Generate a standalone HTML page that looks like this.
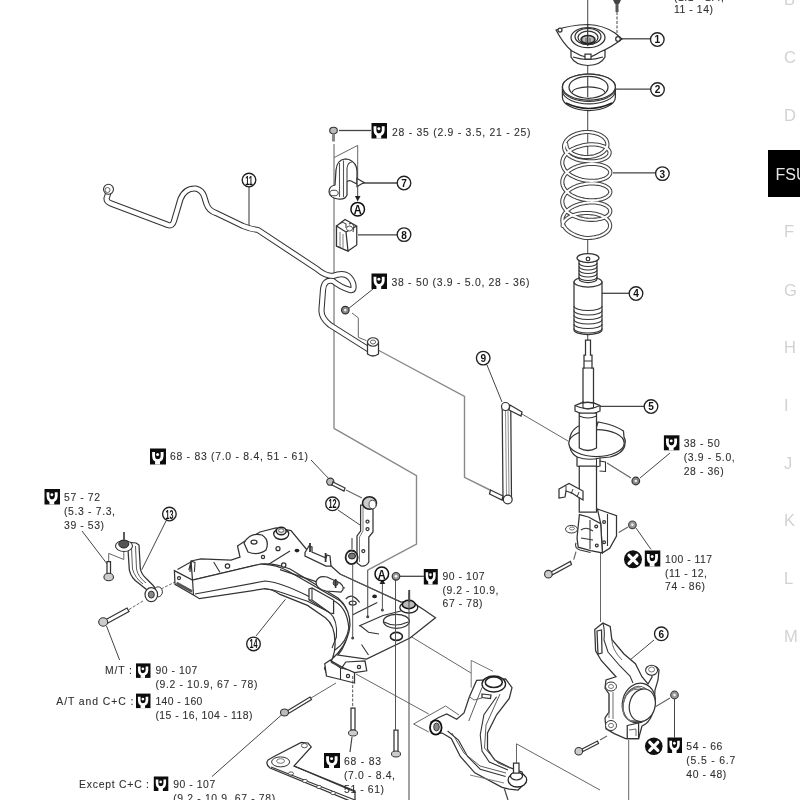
<!DOCTYPE html>
<html><head><meta charset="utf-8"><style>
html,body{margin:0;padding:0;background:#fff;width:800px;height:800px;overflow:hidden}
svg{display:block;filter:blur(0.35px)}
.t{font-family:"Liberation Sans",sans-serif;font-size:10.4px;fill:#303030;stroke:#303030;stroke-width:0.1px}
.co{font-family:"Liberation Sans",sans-serif;font-weight:bold;fill:#111}
.mg{font-family:"Liberation Sans",sans-serif;font-size:16.5px;fill:#d2d2d2}
</style></head><body>
<svg width="800" height="800" viewBox="0 0 800 800">
<text x="784" y="5.3" class="mg">B</text>
<text x="784" y="63.2" class="mg">C</text>
<text x="784" y="121" class="mg">D</text>
<text x="784" y="237.4" class="mg">F</text>
<text x="784" y="295.5" class="mg">G</text>
<text x="784" y="353" class="mg">H</text>
<text x="784" y="411" class="mg">I</text>
<text x="784" y="468.5" class="mg">J</text>
<text x="784" y="526.3" class="mg">K</text>
<text x="784" y="584" class="mg">L</text>
<text x="784" y="642" class="mg">M</text>
<rect x="768" y="150" width="40" height="47" fill="#000"/>
<text x="775.5" y="179.5" font-size="16" fill="#e6e6e6" font-family="Liberation Sans">FSU</text>
<line x1="621" y1="38.8" x2="650.5" y2="38.8" stroke="#444" stroke-width="1.3"/>
<line x1="614" y1="89.2" x2="650.8" y2="89.2" stroke="#444" stroke-width="1.3"/>
<line x1="613" y1="172.8" x2="655.6" y2="172.8" stroke="#444" stroke-width="1.3"/>
<line x1="602" y1="293.3" x2="629.3" y2="293.3" stroke="#444" stroke-width="1.3"/>
<line x1="600" y1="406.3" x2="644.3" y2="406.3" stroke="#444" stroke-width="1.3"/>
<line x1="339" y1="130.5" x2="371" y2="130.5" stroke="#444" stroke-width="1.3"/>
<line x1="360" y1="183" x2="397.3" y2="183" stroke="#444" stroke-width="1.3"/>
<line x1="358" y1="234.8" x2="397.3" y2="234.8" stroke="#444" stroke-width="1.3"/>
<line x1="249" y1="186.6" x2="249" y2="226" stroke="#444" stroke-width="1.1"/>
<line x1="373" y1="289" x2="348" y2="309" stroke="#444" stroke-width="1.0"/>
<line x1="311" y1="460" x2="330" y2="480" stroke="#444" stroke-width="1.0"/>
<line x1="338" y1="510" x2="360" y2="525" stroke="#444" stroke-width="1.0"/>
<line x1="400" y1="576.3" x2="423.8" y2="576.3" stroke="#444" stroke-width="1.3"/>
<line x1="670" y1="453" x2="640" y2="478" stroke="#444" stroke-width="1.0"/>
<line x1="651" y1="549.4" x2="636" y2="528" stroke="#444" stroke-width="1.0"/>
<line x1="654" y1="640" x2="630" y2="660" stroke="#444" stroke-width="1.0"/>
<line x1="674.5" y1="699" x2="674.5" y2="737.5" stroke="#444" stroke-width="1.0"/>
<line x1="166" y1="521" x2="141.7" y2="569.8" stroke="#444" stroke-width="1.0"/>
<polyline points="108.7,561 108.7,553.4 123.8,559.5 123.8,552" fill="none" stroke="#666" stroke-width="1.0"/>
<line x1="129" y1="609.5" x2="143" y2="601" stroke="#666" stroke-width="1.0" stroke-dasharray="3,1.5"/>
<line x1="161" y1="589" x2="175" y2="582" stroke="#666" stroke-width="1.0" stroke-dasharray="3,1.5"/>
<line x1="82" y1="531" x2="107.4" y2="564.3" stroke="#444" stroke-width="1.0"/>
<line x1="119.6" y1="660" x2="106.5" y2="626" stroke="#444" stroke-width="1.0"/>
<line x1="212" y1="776.5" x2="282" y2="714.5" stroke="#444" stroke-width="1.0"/>
<line x1="311" y1="698" x2="336" y2="683" stroke="#666" stroke-width="1.0"/>
<line x1="256" y1="636" x2="285.4" y2="599.3" stroke="#444" stroke-width="1.0"/>
<polyline points="334,144 334,428.4" fill="none" stroke="#999" stroke-width="1.6"/>
<polyline points="334,428.4 416.5,475.6 416.5,544 367.7,570.2" fill="none" stroke="#888" stroke-width="1.4"/>
<polyline points="378,350 464.5,396.4 464.5,477.4 490,490" fill="none" stroke="#888" stroke-width="1.4"/>
<polyline points="334,157.6 357.7,145.4 357.7,184.7" fill="none" stroke="#666" stroke-width="1.0"/>
<polyline points="352,313 358.3,317.8 358.3,337.3 366.4,340.6" fill="none" stroke="#666" stroke-width="1.0"/>
<line x1="357.7" y1="186" x2="357.7" y2="197" stroke="#444" stroke-width="1.0"/>
<path d="M354.9,196 L360.5,196 L357.7,201.5 Z" fill="#222"/>
<polyline points="522,414 568,441" fill="none" stroke="#666" stroke-width="1.0"/>
<line x1="487" y1="365" x2="502" y2="402" stroke="#444" stroke-width="1.0"/>
<polyline points="617,12 617,37" fill="none" stroke="#555" stroke-width="1.1" stroke-dasharray="3,1.5"/>
<line x1="587.7" y1="0" x2="587.7" y2="160" stroke="#555" stroke-width="1.1"/>
<line x1="587.7" y1="236" x2="587.7" y2="340" stroke="#555" stroke-width="1.1"/>
<line x1="600.5" y1="553" x2="600.5" y2="622" stroke="#666" stroke-width="1.0"/>
<line x1="628.7" y1="740" x2="628.7" y2="800" stroke="#666" stroke-width="1.0"/>
<polyline points="410,636 471.2,673.1" fill="none" stroke="#666" stroke-width="1.0"/>
<polyline points="471.2,687.6 471.2,660.4 493,671.3" fill="none" stroke="#777" stroke-width="1.0"/>
<polyline points="459,715 445.6,706 413.6,724 428.75,732" fill="none" stroke="#666" stroke-width="1.0"/>
<polyline points="516.5,763 516.5,743.8 600,790" fill="none" stroke="#666" stroke-width="1.0"/>
<line x1="356" y1="674" x2="428.75" y2="714" stroke="#666" stroke-width="1.0"/>
<path d="M108,194 L106.5,198.5 Q106.5,202 111,203.5 L168,225 Q172.5,226.5 174,221 L180.5,199 Q185,188 195.5,188.5 Q202,190 204,196 L206.5,204 Q209,211 216,213 L243,226 Q250,229 258,230 L317,269 Q325,276 333,276 Q348,270 353,283 Q355,291 350,290 Q340,287 333,281 Q324,279 323,290 L321.5,310 Q321,318 330,325 L368,349" fill="none" stroke="#333" stroke-width="6.2" stroke-linejoin="round" stroke-linecap="round"/><path d="M108,194 L106.5,198.5 Q106.5,202 111,203.5 L168,225 Q172.5,226.5 174,221 L180.5,199 Q185,188 195.5,188.5 Q202,190 204,196 L206.5,204 Q209,211 216,213 L243,226 Q250,229 258,230 L317,269 Q325,276 333,276 Q348,270 353,283 Q355,291 350,290 Q340,287 333,281 Q324,279 323,290 L321.5,310 Q321,318 330,325 L368,349" fill="none" stroke="#fff" stroke-width="4.1" stroke-linejoin="round" stroke-linecap="round"/>
<circle cx="108.5" cy="189.3" r="5" fill="#fff" stroke="#333" stroke-width="1.1"/>
<circle cx="107.5" cy="190" r="2.5" fill="#fff" stroke="#555" stroke-width="0.9"/>
<circle cx="345.3" cy="310.1" r="3.8" fill="#888" stroke="#333" stroke-width="1.2"/><circle cx="345.3" cy="310.1" r="1.3" fill="#eee"/>
<path d="M367.5,342 L367.5,354 Q373,358 378.5,354 L378.5,342 Z" fill="#fff" stroke="#333" stroke-width="1.25" />
<ellipse cx="373" cy="342" rx="5.5" ry="4.2" fill="#fff" stroke="#333" stroke-width="1.1"/>
<ellipse cx="373" cy="342" rx="2.6" ry="2" fill="#fff" stroke="#555" stroke-width="0.9"/>
<ellipse cx="333.5" cy="130.5" rx="3.8" ry="3.2" fill="#bbb" stroke="#333" stroke-width="1.1"/>
<rect x="332" y="133.5" width="3" height="8" fill="#888"/>
<path d="M571,50 L571,57 Q575,65 588,65.5 Q601,65 605,57 L605,50 Z" fill="#fff" stroke="#333" stroke-width="1.25" />
<path d="M573,57 Q588,62 603,57" fill="none" stroke="#333" stroke-width="1.20"/>
<path d="M556,30 Q570,25 588,24.5 Q603,25 615,33 L622,39 Q612,47 600,52 Q592,57 588,57.5 Q580,56 572,51 Q564,45 556,30 Z" fill="#fff" stroke="#333" stroke-width="1.25" />
<ellipse cx="588" cy="37.6" rx="17" ry="10" fill="#fff" stroke="#333" stroke-width="1.25" />
<ellipse cx="588" cy="36.5" rx="13" ry="8.2" fill="#fff" stroke="#333" stroke-width="1.25" />
<ellipse cx="588" cy="37.6" rx="10" ry="6.5" fill="#fff" stroke="#333" stroke-width="1.25" />
<ellipse cx="588" cy="39.4" rx="7" ry="4" fill="#bbb" stroke="#222" stroke-width="1.5"/>
<path d="M582,38 L582,42 M586,38 L586,43 M590,38 L590,43 M594,38 L594,42" fill="none" stroke="#444" stroke-width="0.84"/>
<path d="M587.7,24 L587.7,46" fill="none" stroke="#333" stroke-width="1.20"/>
<circle cx="560" cy="30" r="2" fill="#fff" stroke="#333" stroke-width="1.25"/>
<circle cx="618" cy="39" r="2.3" fill="#fff" stroke="#333" stroke-width="1.25"/>
<path d="M585,54 L591,54 L591,59 L585,59 Z" fill="#fff" stroke="#333" stroke-width="1.25" />
<path d="M613,0 L621,0 L619,4 L615,4 Z" fill="#444"/><rect x="615.5" y="4" width="3" height="8" fill="#555"/>
<path d="M562.4,87 L562.4,97 A26.5,13.5 0 0 0 615.4,97 L615.4,87 A26.5,13 0 0 0 562.4,87 Z" fill="#fff" stroke="#333" stroke-width="1.25" />
<ellipse cx="588.9" cy="87" rx="26.5" ry="13" fill="#fff" stroke="#333" stroke-width="1.25" />
<ellipse cx="588.5" cy="87.3" rx="19.5" ry="11" fill="#fff" stroke="#333" stroke-width="1.25" />
<path d="M572.3,92.5 A16.2,5.6 0 0 1 604.7,92.5" fill="none" stroke="#333" stroke-width="1.20"/>
<path d="M562.6,89.5 A26.4,13 0 0 0 615.2,89.5" fill="none" stroke="#333" stroke-width="1.08"/>
<path d="M562.6,92 A26.4,13 0 0 0 615.2,92" fill="none" stroke="#333" stroke-width="1.08"/>
<path d="M566,103 Q589,114 612,103" fill="none" stroke="#222" stroke-width="1.56"/>
<path d="M587.7,76.5 L587.7,97" fill="none" stroke="#444" stroke-width="1.14"/>
<path d="M566.3,144.0 L566.3,145.0 L566.5,146.0 L566.7,146.9 L567.1,147.9 L567.6,148.8 L568.2,149.7 L568.9,150.5 L569.7,151.4 L570.5,152.2 L571.5,152.9 L572.6,153.6 L573.7,154.2 L575.0,154.8 L576.3,155.3 L577.6,155.8 L579.0,156.1 L580.5,156.5 L582.0,156.7 L583.5,156.9 L585.0,157.0 L586.6,157.0 L588.1,157.0 L589.7,156.9 L591.2,156.7 L592.7,156.5 L594.2,156.2 L595.6,155.8 L597.0,155.3 L598.3,154.8 L599.6,154.2 L600.7,153.6 L601.9,152.9 L602.9,152.2 L603.8,151.4 L604.6,150.6 L605.4,149.8 L606.0,148.9 L606.5,148.0 L606.9,147.0 L607.2,146.1 L607.4,145.1 L607.4,144.2 L607.3,143.2 L607.1,142.3 L606.8,141.3 L606.4,140.4 L605.9,139.5 L605.2,138.7 L604.4,137.8 L603.6,137.1 L602.6,136.3 L601.5,135.6 L600.4,135.0 L599.1,134.4 L597.8,133.8 L596.4,133.4 L595.0,133.0 L593.5,132.6 L591.9,132.4 L590.3,132.2 L588.7,132.0 L587.1,132.0 L585.5,132.0 L583.9,132.2 L582.2,132.4 L580.6,132.7 L579.0,133.1 L577.5,133.5 L576.0,134.0 L574.6,134.6 L573.2,135.2 L571.9,135.9 L570.7,136.6 L569.5,137.4 L568.5,138.3 L567.6,139.1 L566.7,140.1 L566.0,141.0 L565.4,142.0 L564.9,143.0 L564.5,144.1 L564.2,145.1 L564.1,146.1 L564.1,147.2 L564.2,148.2 L564.5,149.3 L564.8,150.3 L565.3,151.3 L565.9,152.3 L566.7,153.2 L567.5,154.2 L568.5,155.0 L569.5,155.9 L570.7,156.6 L571.9,157.4 L573.3,158.0 L574.7,158.6 L576.2,159.2 L577.7,159.7 L579.3,160.1 L580.9,160.4 L582.6,160.7 L584.3,160.9 L586.0,161.0 L587.7,161.2 L589.4,161.3 L591.1,161.4 L592.8,161.4 L594.5,161.3 L596.1,161.1 L597.6,160.9 L599.1,160.6 L600.5,160.3 L601.9,159.9 L603.1,159.4 L604.3,158.9 L605.3,158.4 L606.3,157.8 L607.1,157.2 L607.9,156.5 L608.5,155.8 L609.0,155.1 L609.3,154.4 L609.5,153.6 L609.6,152.9 L609.6,152.1 L609.4,151.4 L609.1,150.7 L608.7,149.9 L608.1,149.3 L607.4,148.6 L606.6,148.0 L605.7,147.4 L604.7,146.8 L603.5,146.3 L602.3,145.9 L600.9,145.5 L599.5,145.1 L598.0,144.8 L596.4,144.6 L594.8,144.5 L593.1,144.4 L591.3,144.4 L589.6,144.4 L587.8,144.6 L586.0,144.8 L584.2,145.1 L582.4,145.4 L580.6,145.9 L578.9,146.4 L577.2,146.9 L575.5,147.6 L574.0,148.3 L572.4,149.0 L571.0,149.9 L569.7,150.8 L568.4,151.7 L567.2,152.7 L566.2,153.7 L565.3,154.8 L564.5,155.9 L563.8,157.1 L563.2,158.2 L562.8,159.4 L562.5,160.6 L562.3,161.8 L562.3,163.0 L562.4,164.2 L562.7,165.4 L563.1,166.6 L563.6,167.8 L564.2,169.0 L565.0,170.1 L565.9,171.2 L566.9,172.2 L568.0,173.2 L569.2,174.2 L570.5,175.1 L572.0,175.9 L573.4,176.7 L575.0,177.4 L576.6,178.1 L578.3,178.7 L580.0,179.2 L581.8,179.7 L583.6,180.1 L585.4,180.4 L587.2,180.6 L589.0,180.8 L590.8,180.9 L592.6,180.9 L594.3,180.8 L596.0,180.7 L597.6,180.5 L599.2,180.2 L600.6,179.9 L602.1,179.5 L603.4,179.1 L604.6,178.6 L605.7,178.1 L606.7,177.5 L607.6,176.9 L608.4,176.2 L609.0,175.5 L609.5,174.8 L609.9,174.1 L610.2,173.4 L610.3,172.6 L610.3,171.9 L610.1,171.1 L609.8,170.4 L609.4,169.7 L608.8,169.0 L608.1,168.3 L607.3,167.7 L606.4,167.1 L605.4,166.5 L604.2,166.0 L602.9,165.5 L601.6,165.1 L600.2,164.7 L598.6,164.4 L597.1,164.2 L595.4,164.0 L593.7,163.9 L592.0,163.9 L590.2,163.9 L588.4,164.0 L586.6,164.2 L584.8,164.5 L583.0,164.8 L581.2,165.2 L579.5,165.7 L577.7,166.2 L576.1,166.9 L574.5,167.5 L572.9,168.3 L571.5,169.1 L570.1,170.0 L568.8,170.9 L567.6,171.9 L566.5,172.9 L565.6,173.9 L564.7,175.0 L564.0,176.2 L563.4,177.3 L562.9,178.5 L562.6,179.7 L562.4,180.9 L562.3,182.1 L562.4,183.3 L562.6,184.5 L562.9,185.7 L563.4,186.9 L564.0,188.1 L564.7,189.2 L565.6,190.3 L566.5,191.4 L567.6,192.4 L568.8,193.4 L570.1,194.3 L571.5,195.2 L572.9,196.0 L574.5,196.7 L576.1,197.4 L577.7,198.0 L579.5,198.6 L581.2,199.0 L583.0,199.4 L584.8,199.8 L586.6,200.0 L588.4,200.2 L590.2,200.3 L592.0,200.4 L593.7,200.3 L595.4,200.2 L597.1,200.1 L598.6,199.8 L600.2,199.5 L601.6,199.2 L602.9,198.7 L604.2,198.3 L605.4,197.8 L606.4,197.2 L607.3,196.6 L608.1,195.9 L608.8,195.3 L609.4,194.6 L609.8,193.8 L610.1,193.1 L610.3,192.4 L610.3,191.6 L610.2,190.9 L609.9,190.1 L609.5,189.4 L609.0,188.7 L608.4,188.0 L607.6,187.4 L606.7,186.8 L605.7,186.2 L604.6,185.6 L603.4,185.2 L602.1,184.7 L600.6,184.3 L599.2,184.0 L597.6,183.8 L596.0,183.6 L594.3,183.4 L592.6,183.4 L590.8,183.4 L589.0,183.5 L587.2,183.6 L585.4,183.9 L583.6,184.2 L581.8,184.6 L580.0,185.0 L578.3,185.5 L576.6,186.1 L575.0,186.8 L573.4,187.5 L572.0,188.3 L570.5,189.2 L569.2,190.1 L568.0,191.0 L566.9,192.0 L565.9,193.1 L565.0,194.2 L564.2,195.3 L563.6,196.4 L563.1,197.6 L562.7,198.8 L562.4,200.0 L562.3,201.2 L562.3,202.4 L562.5,203.6 L562.8,204.8 L563.2,206.0 L563.8,207.2 L564.5,208.3 L565.3,209.4 L566.2,210.5 L567.2,211.6 L568.4,212.5 L569.7,213.5 L571.0,214.4 L572.4,215.2 L574.0,216.0 L575.5,216.7 L577.2,217.3 L578.9,217.9 L580.6,218.4 L582.4,218.8 L584.2,219.2 L586.0,219.5 L587.8,219.7 L589.6,219.8 L591.4,219.8 L593.1,219.8 L594.9,219.7 L596.5,219.6 L598.1,219.3 L599.7,219.0 L601.1,218.7 L602.5,218.3 L603.8,217.8 L605.0,217.3 L606.1,216.7 L607.0,216.1 L607.9,215.5 L608.6,214.8 L609.2,214.1 L609.7,213.4 L610.0,212.6 L610.2,211.9 L610.3,211.1 L610.2,210.4 L610.0,209.6 L609.7,208.9 L609.2,208.2 L608.6,207.4 L607.9,206.8 L607.0,206.1 L606.1,205.5 L605.0,205.0 L603.8,204.4 L602.5,204.0 L601.1,203.6 L599.7,203.2 L598.1,202.9 L596.5,202.7 L594.9,202.5 L593.1,202.4 L591.4,202.4 L589.6,202.5 L587.8,202.6 L586.0,202.8 L584.2,203.1 L582.4,203.4 L580.6,203.8 L578.9,204.3 L577.2,204.9 L575.5,205.5 L574.0,206.2 L572.4,207.0 L571.0,207.8 L569.7,208.6 L568.4,209.6 L567.3,210.5 L566.2,211.6 L565.3,212.6 L564.5,213.7 L563.8,214.9 L563.2,216.0 L562.8,217.2 L562.5,218.4 L562.4,219.6 L562.4,220.8 L562.5,222.0 L562.7,223.2 L563.1,224.3 L563.6,225.5 L564.3,226.6 L565.0,227.8 L565.9,228.8 L566.9,229.9 L568.1,230.9 L569.3,231.8 L570.6,232.7 L572.0,233.5 L573.5,234.3 L575.0,235.0 L576.7,235.7 L578.3,236.3 L580.1,236.8 L581.8,237.2 L583.6,237.6 L585.4,237.9 L587.2,238.0 L589.0,238.0 L590.8,237.8 L592.5,237.6 L594.2,237.4 L595.9,237.0 L597.5,236.6 L599.1,236.2 L600.6,235.6 L602.0,235.0 L603.3,234.4 L604.5,233.7 L605.6,232.9 L606.6,232.2 L607.5,231.3 L608.2,230.5 L608.9,229.6 L609.4,228.7 L609.8,227.7 L610.0,226.8 L610.1,225.8 L610.1,224.9 L609.9,223.9 L609.6,223.0 L609.2,222.0 L608.7,221.1 L608.0,220.2 L607.2,219.4 L606.2,218.6 L605.2,217.8 L604.1,217.1 L602.8,216.4 L601.5,215.8 L600.0,215.2 L598.5,214.7 L597.0,214.2 L595.3,213.8 L593.6,213.5 L591.9,213.3 L590.2,213.1 L588.4,213.0 L586.6,213.0 L584.8,213.0 L583.0,213.1 L581.3,213.3 L579.5,213.5 L577.8,213.9 L576.2,214.2 L574.6,214.7 L573.1,215.2 L571.6,215.8 L570.3,216.4 L569.0,217.1 L567.8,217.8 L566.8,218.6 L565.8,219.5 L565.0,220.3 L564.3,221.2 L563.7,222.1 L563.2,223.1 L562.9,224.0 L562.7,225.0 L562.6,226.0" fill="none" stroke="#444" stroke-width="4.2" stroke-linejoin="round" stroke-linecap="round"/><path d="M566.3,144.0 L566.3,145.0 L566.5,146.0 L566.7,146.9 L567.1,147.9 L567.6,148.8 L568.2,149.7 L568.9,150.5 L569.7,151.4 L570.5,152.2 L571.5,152.9 L572.6,153.6 L573.7,154.2 L575.0,154.8 L576.3,155.3 L577.6,155.8 L579.0,156.1 L580.5,156.5 L582.0,156.7 L583.5,156.9 L585.0,157.0 L586.6,157.0 L588.1,157.0 L589.7,156.9 L591.2,156.7 L592.7,156.5 L594.2,156.2 L595.6,155.8 L597.0,155.3 L598.3,154.8 L599.6,154.2 L600.7,153.6 L601.9,152.9 L602.9,152.2 L603.8,151.4 L604.6,150.6 L605.4,149.8 L606.0,148.9 L606.5,148.0 L606.9,147.0 L607.2,146.1 L607.4,145.1 L607.4,144.2 L607.3,143.2 L607.1,142.3 L606.8,141.3 L606.4,140.4 L605.9,139.5 L605.2,138.7 L604.4,137.8 L603.6,137.1 L602.6,136.3 L601.5,135.6 L600.4,135.0 L599.1,134.4 L597.8,133.8 L596.4,133.4 L595.0,133.0 L593.5,132.6 L591.9,132.4 L590.3,132.2 L588.7,132.0 L587.1,132.0 L585.5,132.0 L583.9,132.2 L582.2,132.4 L580.6,132.7 L579.0,133.1 L577.5,133.5 L576.0,134.0 L574.6,134.6 L573.2,135.2 L571.9,135.9 L570.7,136.6 L569.5,137.4 L568.5,138.3 L567.6,139.1 L566.7,140.1 L566.0,141.0 L565.4,142.0 L564.9,143.0 L564.5,144.1 L564.2,145.1 L564.1,146.1 L564.1,147.2 L564.2,148.2 L564.5,149.3 L564.8,150.3 L565.3,151.3 L565.9,152.3 L566.7,153.2 L567.5,154.2 L568.5,155.0 L569.5,155.9 L570.7,156.6 L571.9,157.4 L573.3,158.0 L574.7,158.6 L576.2,159.2 L577.7,159.7 L579.3,160.1 L580.9,160.4 L582.6,160.7 L584.3,160.9 L586.0,161.0 L587.7,161.2 L589.4,161.3 L591.1,161.4 L592.8,161.4 L594.5,161.3 L596.1,161.1 L597.6,160.9 L599.1,160.6 L600.5,160.3 L601.9,159.9 L603.1,159.4 L604.3,158.9 L605.3,158.4 L606.3,157.8 L607.1,157.2 L607.9,156.5 L608.5,155.8 L609.0,155.1 L609.3,154.4 L609.5,153.6 L609.6,152.9 L609.6,152.1 L609.4,151.4 L609.1,150.7 L608.7,149.9 L608.1,149.3 L607.4,148.6 L606.6,148.0 L605.7,147.4 L604.7,146.8 L603.5,146.3 L602.3,145.9 L600.9,145.5 L599.5,145.1 L598.0,144.8 L596.4,144.6 L594.8,144.5 L593.1,144.4 L591.3,144.4 L589.6,144.4 L587.8,144.6 L586.0,144.8 L584.2,145.1 L582.4,145.4 L580.6,145.9 L578.9,146.4 L577.2,146.9 L575.5,147.6 L574.0,148.3 L572.4,149.0 L571.0,149.9 L569.7,150.8 L568.4,151.7 L567.2,152.7 L566.2,153.7 L565.3,154.8 L564.5,155.9 L563.8,157.1 L563.2,158.2 L562.8,159.4 L562.5,160.6 L562.3,161.8 L562.3,163.0 L562.4,164.2 L562.7,165.4 L563.1,166.6 L563.6,167.8 L564.2,169.0 L565.0,170.1 L565.9,171.2 L566.9,172.2 L568.0,173.2 L569.2,174.2 L570.5,175.1 L572.0,175.9 L573.4,176.7 L575.0,177.4 L576.6,178.1 L578.3,178.7 L580.0,179.2 L581.8,179.7 L583.6,180.1 L585.4,180.4 L587.2,180.6 L589.0,180.8 L590.8,180.9 L592.6,180.9 L594.3,180.8 L596.0,180.7 L597.6,180.5 L599.2,180.2 L600.6,179.9 L602.1,179.5 L603.4,179.1 L604.6,178.6 L605.7,178.1 L606.7,177.5 L607.6,176.9 L608.4,176.2 L609.0,175.5 L609.5,174.8 L609.9,174.1 L610.2,173.4 L610.3,172.6 L610.3,171.9 L610.1,171.1 L609.8,170.4 L609.4,169.7 L608.8,169.0 L608.1,168.3 L607.3,167.7 L606.4,167.1 L605.4,166.5 L604.2,166.0 L602.9,165.5 L601.6,165.1 L600.2,164.7 L598.6,164.4 L597.1,164.2 L595.4,164.0 L593.7,163.9 L592.0,163.9 L590.2,163.9 L588.4,164.0 L586.6,164.2 L584.8,164.5 L583.0,164.8 L581.2,165.2 L579.5,165.7 L577.7,166.2 L576.1,166.9 L574.5,167.5 L572.9,168.3 L571.5,169.1 L570.1,170.0 L568.8,170.9 L567.6,171.9 L566.5,172.9 L565.6,173.9 L564.7,175.0 L564.0,176.2 L563.4,177.3 L562.9,178.5 L562.6,179.7 L562.4,180.9 L562.3,182.1 L562.4,183.3 L562.6,184.5 L562.9,185.7 L563.4,186.9 L564.0,188.1 L564.7,189.2 L565.6,190.3 L566.5,191.4 L567.6,192.4 L568.8,193.4 L570.1,194.3 L571.5,195.2 L572.9,196.0 L574.5,196.7 L576.1,197.4 L577.7,198.0 L579.5,198.6 L581.2,199.0 L583.0,199.4 L584.8,199.8 L586.6,200.0 L588.4,200.2 L590.2,200.3 L592.0,200.4 L593.7,200.3 L595.4,200.2 L597.1,200.1 L598.6,199.8 L600.2,199.5 L601.6,199.2 L602.9,198.7 L604.2,198.3 L605.4,197.8 L606.4,197.2 L607.3,196.6 L608.1,195.9 L608.8,195.3 L609.4,194.6 L609.8,193.8 L610.1,193.1 L610.3,192.4 L610.3,191.6 L610.2,190.9 L609.9,190.1 L609.5,189.4 L609.0,188.7 L608.4,188.0 L607.6,187.4 L606.7,186.8 L605.7,186.2 L604.6,185.6 L603.4,185.2 L602.1,184.7 L600.6,184.3 L599.2,184.0 L597.6,183.8 L596.0,183.6 L594.3,183.4 L592.6,183.4 L590.8,183.4 L589.0,183.5 L587.2,183.6 L585.4,183.9 L583.6,184.2 L581.8,184.6 L580.0,185.0 L578.3,185.5 L576.6,186.1 L575.0,186.8 L573.4,187.5 L572.0,188.3 L570.5,189.2 L569.2,190.1 L568.0,191.0 L566.9,192.0 L565.9,193.1 L565.0,194.2 L564.2,195.3 L563.6,196.4 L563.1,197.6 L562.7,198.8 L562.4,200.0 L562.3,201.2 L562.3,202.4 L562.5,203.6 L562.8,204.8 L563.2,206.0 L563.8,207.2 L564.5,208.3 L565.3,209.4 L566.2,210.5 L567.2,211.6 L568.4,212.5 L569.7,213.5 L571.0,214.4 L572.4,215.2 L574.0,216.0 L575.5,216.7 L577.2,217.3 L578.9,217.9 L580.6,218.4 L582.4,218.8 L584.2,219.2 L586.0,219.5 L587.8,219.7 L589.6,219.8 L591.4,219.8 L593.1,219.8 L594.9,219.7 L596.5,219.6 L598.1,219.3 L599.7,219.0 L601.1,218.7 L602.5,218.3 L603.8,217.8 L605.0,217.3 L606.1,216.7 L607.0,216.1 L607.9,215.5 L608.6,214.8 L609.2,214.1 L609.7,213.4 L610.0,212.6 L610.2,211.9 L610.3,211.1 L610.2,210.4 L610.0,209.6 L609.7,208.9 L609.2,208.2 L608.6,207.4 L607.9,206.8 L607.0,206.1 L606.1,205.5 L605.0,205.0 L603.8,204.4 L602.5,204.0 L601.1,203.6 L599.7,203.2 L598.1,202.9 L596.5,202.7 L594.9,202.5 L593.1,202.4 L591.4,202.4 L589.6,202.5 L587.8,202.6 L586.0,202.8 L584.2,203.1 L582.4,203.4 L580.6,203.8 L578.9,204.3 L577.2,204.9 L575.5,205.5 L574.0,206.2 L572.4,207.0 L571.0,207.8 L569.7,208.6 L568.4,209.6 L567.3,210.5 L566.2,211.6 L565.3,212.6 L564.5,213.7 L563.8,214.9 L563.2,216.0 L562.8,217.2 L562.5,218.4 L562.4,219.6 L562.4,220.8 L562.5,222.0 L562.7,223.2 L563.1,224.3 L563.6,225.5 L564.3,226.6 L565.0,227.8 L565.9,228.8 L566.9,229.9 L568.1,230.9 L569.3,231.8 L570.6,232.7 L572.0,233.5 L573.5,234.3 L575.0,235.0 L576.7,235.7 L578.3,236.3 L580.1,236.8 L581.8,237.2 L583.6,237.6 L585.4,237.9 L587.2,238.0 L589.0,238.0 L590.8,237.8 L592.5,237.6 L594.2,237.4 L595.9,237.0 L597.5,236.6 L599.1,236.2 L600.6,235.6 L602.0,235.0 L603.3,234.4 L604.5,233.7 L605.6,232.9 L606.6,232.2 L607.5,231.3 L608.2,230.5 L608.9,229.6 L609.4,228.7 L609.8,227.7 L610.0,226.8 L610.1,225.8 L610.1,224.9 L609.9,223.9 L609.6,223.0 L609.2,222.0 L608.7,221.1 L608.0,220.2 L607.2,219.4 L606.2,218.6 L605.2,217.8 L604.1,217.1 L602.8,216.4 L601.5,215.8 L600.0,215.2 L598.5,214.7 L597.0,214.2 L595.3,213.8 L593.6,213.5 L591.9,213.3 L590.2,213.1 L588.4,213.0 L586.6,213.0 L584.8,213.0 L583.0,213.1 L581.3,213.3 L579.5,213.5 L577.8,213.9 L576.2,214.2 L574.6,214.7 L573.1,215.2 L571.6,215.8 L570.3,216.4 L569.0,217.1 L567.8,217.8 L566.8,218.6 L565.8,219.5 L565.0,220.3 L564.3,221.2 L563.7,222.1 L563.2,223.1 L562.9,224.0 L562.7,225.0 L562.6,226.0" fill="none" stroke="#fff" stroke-width="2.1" stroke-linejoin="round" stroke-linecap="round"/>
<path d="M574,282 L574,330 A14,4.5 0 0 0 602,330 L602,282 Z" fill="#fff" stroke="#333" stroke-width="1.25" />
<ellipse cx="588" cy="282" rx="14" ry="5" fill="#fff" stroke="#333" stroke-width="1.25" />
<path d="M574,306 A14,4.5 0 0 0 602,306" fill="none" stroke="#333" stroke-width="1.08"/>
<path d="M574,310.5 A14,4.5 0 0 0 602,310.5" fill="none" stroke="#333" stroke-width="1.08"/>
<path d="M574,315 A14,4.5 0 0 0 602,315" fill="none" stroke="#333" stroke-width="1.08"/>
<path d="M574,319.5 A14,4.5 0 0 0 602,319.5" fill="none" stroke="#333" stroke-width="1.08"/>
<path d="M574,324 A14,4.5 0 0 0 602,324" fill="none" stroke="#333" stroke-width="1.08"/>
<path d="M574,328.5 A14,4.5 0 0 0 602,328.5" fill="none" stroke="#333" stroke-width="1.08"/>
<path d="M579,258 L579,279 A9,3.5 0 0 0 597,279 L597,258 Z" fill="#fff" stroke="#333" stroke-width="1.25" />
<ellipse cx="588" cy="258" rx="11" ry="4.5" fill="#fff" stroke="#333" stroke-width="1.25" />
<circle cx="588" cy="259" r="1.8" fill="#fff" stroke="#333" stroke-width="1.25"/>
<path d="M579,263 A9,3.5 0 0 0 597,263" fill="none" stroke="#333" stroke-width="1.08"/>
<path d="M579,266.5 A9,3.5 0 0 0 597,266.5" fill="none" stroke="#333" stroke-width="1.08"/>
<path d="M579,270 A9,3.5 0 0 0 597,270" fill="none" stroke="#333" stroke-width="1.08"/>
<path d="M579,273.5 A9,3.5 0 0 0 597,273.5" fill="none" stroke="#333" stroke-width="1.08"/>
<path d="M579,277 A9,3.5 0 0 0 597,277" fill="none" stroke="#333" stroke-width="1.08"/>
<path d="M585.5,340 L585.5,355 L584,355 L584,368 L583,368 L583,405 L593.5,405 L593.5,368 L592,368 L592,355 L590.5,355 L590.5,340 Z" fill="#fff" stroke="#333" stroke-width="1.25" />
<path d="M584,368 L592,368 M584,361 L592,361" fill="none" stroke="#333" stroke-width="1.08"/>
<path d="M575,405.5 L575,411 Q587.5,418 600,411 L600,405.5 Q587.5,399 575,405.5 Z" fill="#fff" stroke="#333" stroke-width="1.25" />
<path d="M575,405.5 Q587.5,412 600,405.5" fill="none" stroke="#333" stroke-width="1.08"/>
<path d="M583,401 L583,408 Q588,410 593.5,408 L593.5,401" fill="none" stroke="#333" stroke-width="1.08"/>
<path d="M569.5,443 Q569,428 584,424 L585,431 Q588,430 596,429 L598,422 L603,423 Q614,425 623.5,431 L624,437 Q626,441 625,443 Q625,453 610,457 L600,458 L600,466 Q588,470 577,466 L577,457 Q569,452 569.5,443 Z" fill="#fff" stroke="#333" stroke-width="1.25" />
<ellipse cx="596.5" cy="443" rx="27.75" ry="13.5" fill="#fff" stroke="#333" stroke-width="1.25" fill="none"/>
<path d="M577,457 Q588,461 600,458" fill="none" stroke="#333" stroke-width="1.08"/>
<path d="M579.25,413 L579.25,448 Q588,453 596.5,448 L596.5,413 Z" fill="#fff" stroke="#333" stroke-width="1.25" />
<path d="M579.25,416 Q588,420 596.5,416" fill="none" stroke="#333" stroke-width="1.08"/>
<path d="M579.25,466 L579.25,512 L596.5,512 L596.5,466 Z" fill="#fff" stroke="#333" stroke-width="1.25" />
<path d="M596.5,458 L596.5,470 M599.5,461 L605.5,462 L605.5,471.5 L599.5,471" fill="none" stroke="#333" stroke-width="1.08"/>
<path d="M559,489 L569,483.5 L583,491 L583,500 L578,497 L572,493 L566,491 L565,497 L559,498 Z" fill="#fff" stroke="#333" stroke-width="1.25" />
<path d="M566,491 L566,486 M571,494 L573,489 M577,497 L579,492" fill="none" stroke="#333" stroke-width="0.96"/>
<path d="M597.4,509 L616.5,515.7 L616.5,536 L609.7,548.4 L602.4,552.9 L600.7,523.6 Z" fill="#fff" stroke="#333" stroke-width="1.25" />
<path d="M607.5,514 L607.5,546" fill="none" stroke="#333" stroke-width="1.08"/>
<path d="M579.4,514.6 L588.4,517 L600.7,523.6 L602.4,552.9 L590.6,550.6 L578.2,547.2 L577,538 Z" fill="#fff" stroke="#333" stroke-width="1.25" />
<path d="M590,520 L590,549 M581,530 Q586,526 593,531 M581,538 L593,540" fill="none" stroke="#333" stroke-width="1.08"/>
<circle cx="596.2" cy="526.4" r="1.4" fill="#fff" stroke="#333" stroke-width="1.25"/>
<circle cx="604.1" cy="522" r="1.4" fill="#fff" stroke="#333" stroke-width="1.25"/>
<circle cx="596.8" cy="545.6" r="1.4" fill="#fff" stroke="#333" stroke-width="1.25"/>
<circle cx="604.1" cy="542.2" r="1.4" fill="#fff" stroke="#333" stroke-width="1.25"/>
<ellipse cx="571.5" cy="529.2" rx="6" ry="3.8" fill="#fff" stroke="#333" stroke-width="1"/>
<ellipse cx="572" cy="528.5" rx="2.5" ry="1.5" fill="#fff" stroke="#555" stroke-width="0.8"/>
<path d="M576,542.7 Q574,548 580,550 L590.6,552.5" fill="none" stroke="#333" stroke-width="1.08"/>
<circle cx="635.8" cy="481" r="3.8" fill="#888" stroke="#333" stroke-width="1.2"/><circle cx="635.8" cy="481" r="1.3" fill="#eee"/>
<circle cx="632.4" cy="524.8" r="3.8" fill="#999" stroke="#444" stroke-width="1.2"/><circle cx="632.4" cy="524.8" r="1.3" fill="#eee"/>
<path d="M607,463 L631,478" fill="none" stroke="#666" stroke-width="1.20"/>
<path d="M618.7,532.6 L628,527" fill="none" stroke="#666" stroke-width="1.20"/>
<path d="M551,572 L570.4,561.5 L571.5,564.5 L552,575 Z" fill="#fff" stroke="#333" stroke-width="1.25" />
<circle cx="548.4" cy="574.2" r="3.8" fill="#ccc" stroke="#333" stroke-width="1.1"/>
<path d="M573.7,559.6 L576,551.7" fill="none" stroke="#666" stroke-width="1.20"/>
<path d="M191,561 L201,559 L231,560 L240,557 L237.5,546 L245,541 L260,532 L276,528 L291,530.6 L306,548.7 L330,565 L340,574 L401,602 L410,601 L423.5,609.5 L435.5,617.7 L410,638 L366.5,659 L338,655 Q347,645 349,625 Q350,608 338,598 L290,569 Q275,563 261,564 L192.5,580 Z" fill="#fff" stroke="#333" stroke-width="1.25" />
<path d="M174.4,570.6 L192.5,580 L261,564 Q276,564 288,571 L340.5,601 Q350,610 350,625 Q349,640 338,653 L330,661 L324.5,668 L326,672 Q336,655 335,642.5 Q335,625 325.4,617.8 L307.5,605.4 L280,594.4 Q272,589 265,588.75 L199.4,598.7 L193.5,595 L175,584.4 Z" fill="#fff" stroke="#333" stroke-width="1.25" />
<path d="M195,594 L265,581 Q280,582 307.5,595.8 L332,600 Q347,606 348.8,628 Q347,642 335,650" fill="none" stroke="#333" stroke-width="1.20"/>
<path d="M265,588.75 Q272,589 280,592 L307.5,601.3 L329.5,612.3 Q338,620 336.4,637 L332,648" fill="none" stroke="#333" stroke-width="1.08"/>
<path d="M280,569.6 L321.3,583.4 L345,588" fill="none" stroke="#333" stroke-width="1.20"/>
<path d="M177.5,569.4 L190.8,562 L190,572" fill="none" stroke="#333" stroke-width="1.20"/>
<path d="M213.7,562 L220,572.5 M267.5,565 L290,551" fill="none" stroke="#333" stroke-width="1.08"/>
<path d="M192.5,580 L193.5,595" fill="none" stroke="#333" stroke-width="1.20"/>
<path d="M176.5,583 L192,591.5" fill="none" stroke="#555" stroke-width="2.64"/>
<path d="M188.75,570 L191.25,561.25 L195,562.5 L194.4,571.9" fill="none" stroke="#333" stroke-width="1.08"/>
<circle cx="179" cy="578" r="1.5" fill="#fff" stroke="#333" stroke-width="1.25"/>
<circle cx="227.5" cy="566" r="2.2" fill="#fff" stroke="#333" stroke-width="1.25"/>
<circle cx="278" cy="548.7" r="2" fill="#fff" stroke="#333" stroke-width="1.25"/>
<circle cx="263" cy="557" r="1.6" fill="#fff" stroke="#333" stroke-width="1.25"/>
<circle cx="283.7" cy="565" r="2.2" fill="#fff" stroke="#333" stroke-width="1.25"/>
<ellipse cx="297" cy="550.6" rx="2.4" ry="1.8" fill="#222"/>
<path d="M244,543 Q250,532 262,535 Q270,540 266,550 Q258,556 248,552 Z" fill="#fff" stroke="#333" stroke-width="1.25" />
<ellipse cx="254" cy="542" rx="3" ry="2" fill="#fff" stroke="#333" stroke-width="1.25"/>
<ellipse cx="281.2" cy="534" rx="7.5" ry="5.5" fill="#fff" stroke="#222" stroke-width="1.3"/>
<ellipse cx="281.2" cy="531" rx="5" ry="3.8" fill="#ddd" stroke="#222" stroke-width="1.4"/>
<ellipse cx="281.2" cy="530.5" rx="2.6" ry="1.8" fill="#fff" stroke="#444" stroke-width="0.9"/>
<path d="M305,552.5 L309,546 L312,547 L312,552 L326,558 L327,555 L330,556 L331,566 L326,566 L305,556 Z" fill="#fff" stroke="#333" stroke-width="1.25" />
<path d="M310,543 L310,552 M325.6,553 L325.6,562" fill="none" stroke="#333" stroke-width="1.80"/>
<path d="M316,582 Q318,575 327,577 L340,583 Q346,588 341,592 L326,591 Q316,589 316,582 Z" fill="#fff" stroke="#333" stroke-width="1.25" />
<circle cx="335.6" cy="583" r="2.5" fill="#777" stroke="#333" stroke-width="1"/>
<path d="M335.6,579 L335.6,588" fill="none" stroke="#333" stroke-width="1.68"/>
<path d="M309,589 L312,588 L333.6,600 L333.6,613.6 L330,613 L309,600 Z" fill="#fff" stroke="#333" stroke-width="1.25" />
<path d="M312,588 L312,600 L330,613 M312,600 L309,600" fill="none" stroke="#333" stroke-width="1.08"/>
<path d="M359,626 L383,615.5 L401,611 M352.75,614.75 L377.25,602.5" fill="none" stroke="#333" stroke-width="1.20"/>
<ellipse cx="396.4" cy="621.3" rx="13" ry="7" fill="#fff" stroke="#333" stroke-width="1.25" />
<path d="M384,622 Q395,628 408,622" fill="none" stroke="#333" stroke-width="1.08"/>
<ellipse cx="396.4" cy="636.4" rx="6" ry="4" fill="#fff" stroke="#222" stroke-width="1.6"/>
<ellipse cx="408.8" cy="607.5" rx="9" ry="5.5" fill="#fff" stroke="#222" stroke-width="1.3"/>
<ellipse cx="408.8" cy="604.5" rx="6.5" ry="4.2" fill="#bbb" stroke="#111" stroke-width="1.5"/>
<path d="M409.2,590 L409.2,602" fill="none" stroke="#444" stroke-width="1.92"/>
<path d="M359.75,625.25 L368.5,632.25 L379,634 M361.5,644.5 L368.5,655" fill="none" stroke="#333" stroke-width="1.08"/>
<path d="M345.75,599 Q352,592 359.75,602.5" fill="none" stroke="#333" stroke-width="1.20"/>
<ellipse cx="352.7" cy="603" rx="3.5" ry="2" fill="#fff" stroke="#333" stroke-width="1.25"/>
<ellipse cx="374.6" cy="596.4" rx="2.4" ry="1.8" fill="#222"/>
<path d="M324.75,663.75 L330,660.25 L342.25,667.25 L354.5,671 L354.5,683 L340.5,679.5 L326.5,676 Z" fill="#fff" stroke="#333" stroke-width="1.25" />
<path d="M330,660.25 L340.5,668 L340.5,679.5 M340.5,668 L354.5,671" fill="none" stroke="#333" stroke-width="1.08"/>
<path d="M331,662 L342,667.5" fill="none" stroke="#444" stroke-width="1.92"/>
<path d="M345.75,662 L365,661 L366.75,670.75 L354.5,672.5 L342.25,667.25 Z" fill="#fff" stroke="#333" stroke-width="1.25" />
<circle cx="359" cy="667" r="1.6" fill="#fff" stroke="#333" stroke-width="1.25"/><circle cx="348" cy="676" r="1.6" fill="#fff" stroke="#333" stroke-width="1.25"/>
<path d="M360.6,505 L373,505 L373,532 L368.8,537 L368.8,562 Q366,567 361,566 L357,563 L357,536 L360.6,531 Z" fill="#fff" stroke="#333" stroke-width="1.25" />
<path d="M363,507 L363,531 L359.5,537 L359.5,562" fill="none" stroke="#777" stroke-width="0.96"/>
<circle cx="367.5" cy="521.6" r="1.5" fill="#fff" stroke="#333" stroke-width="1.25"/>
<circle cx="367.5" cy="529" r="1.5" fill="#fff" stroke="#333" stroke-width="1.25"/>
<circle cx="363.3" cy="551" r="1.5" fill="#fff" stroke="#333" stroke-width="1.25"/>
<ellipse cx="369.5" cy="503" rx="7" ry="6.2" fill="#ccc" stroke="#222" stroke-width="1.6"/>
<ellipse cx="372.5" cy="504.5" rx="3.5" ry="4.2" fill="#fff" stroke="#555" stroke-width="1"/>
<ellipse cx="351.6" cy="557.3" rx="6" ry="6.8" fill="#fff" stroke="#222" stroke-width="1.8"/>
<ellipse cx="352" cy="556" rx="3.5" ry="3" fill="#777" stroke="#222" stroke-width="1"/>
<path d="M352,538 L352,549" fill="none" stroke="#555" stroke-width="1.20"/>
<circle cx="330.3" cy="481.7" r="3.6" fill="#bbb" stroke="#333" stroke-width="1.1"/>
<path d="M333,482 L345,488 L344,491 L332,485 Z" fill="#fff" stroke="#333" stroke-width="1.25" />
<path d="M346,490 L362,498" fill="none" stroke="#666" stroke-width="1.20"/>
<path d="M502.2,406 L510.75,406 L511.5,500 L503,500 Z" fill="#fff" stroke="#333" stroke-width="1.25" />
<path d="M505.5,410 L506.5,496 M508,410 L509,496" fill="none" stroke="#888" stroke-width="0.96"/>
<circle cx="505.5" cy="406.5" r="4" fill="#fff" stroke="#333" stroke-width="1.2"/>
<circle cx="507.75" cy="499.5" r="4.4" fill="#fff" stroke="#333" stroke-width="1.2"/>
<path d="M510,405 L522,412 L521,416 L509,410 Z" fill="#fff" stroke="#333" stroke-width="1.25" fill="#666"/>
<path d="M490.5,490 L503,496 L502,500 L489.5,494 Z" fill="#fff" stroke="#333" stroke-width="1.25" fill="#777"/>
<path d="M329,192 Q329,186 335,185 L336,170 Q337,160 345,159 L349,159.5 Q357,163 357,171 L357,184 L353,182 Q349,179 347,182 L347,195 Q345,200 338,199 Q330,198 329,192 Z" fill="#fff" stroke="#333" stroke-width="1.25" fill="#f2f2f2"/>
<path d="M339.5,163 L339.5,197 M343.5,160.5 L343.5,197" fill="none" stroke="#555" stroke-width="1.08"/>
<path d="M347,182 L347,168 Q348,162 352,162" fill="none" stroke="#444" stroke-width="1.08"/>
<ellipse cx="334" cy="193" rx="4.2" ry="2.8" fill="#fff" stroke="#444" stroke-width="1"/>
<path d="M357,178.5 L364,182.5 L357,186.5 Z" fill="#fff" stroke="#333" stroke-width="1.25" />
<path d="M336.5,226 L345,219.5 L356.75,226 L356.75,245 L348,251 L336.5,246 Z" fill="#fff" stroke="#333" stroke-width="1.25" />
<path d="M336.5,226 L346,232 L348,251 L336.5,246 Z" fill="#fff" stroke="#333" stroke-width="1.25" fill="#d0d0d0"/>
<path d="M346,232 L356.75,226" fill="none" stroke="#333" stroke-width="1.20"/>
<path d="M340,224 Q342,221 346,224 L346,228 M349,224 Q352,222 354,226 L353,232" fill="none" stroke="#444" stroke-width="1.08"/>
<ellipse cx="349.5" cy="228.5" rx="3" ry="2.5" fill="#fff" stroke="#444" stroke-width="0.9"/>
<path d="M340,232 L340,247 M343,234 L343,249" fill="none" stroke="#777" stroke-width="0.96"/>
<path d="M594.75,629.6 L602.9,623.1 L610.2,626.4 L611.8,639.4 L624,654 L635.4,663.75 L641.9,676.75 L648,684 L652,677 L651,668 Q656,664 659,670 L658,680 L655,690 L654,706 Q652,722 642,726 L638.6,738.5 L625.6,738.5 L614.25,733.6 L606,728.75 L605,718 L609,712 L609,694 L605,688 L606,680 L616,676.75 L601.25,660.5 L595.6,650.75 Z" fill="#fff" stroke="#333" stroke-width="1.25" />
<path d="M602.9,623.1 Q605,630 604,640 L608,652 L620,666 L630,676 L633,683" fill="none" stroke="#333" stroke-width="1.08"/>
<path d="M597,631 L601.5,630 L602,653 L598,654 Z" fill="#fff" stroke="#333" stroke-width="1.25" />
<path d="M611.8,639.4 Q612,650 622,660" fill="none" stroke="#666" stroke-width="0.96"/>
<ellipse cx="638.8" cy="703" rx="16.3" ry="20" transform="rotate(15 638.8 703)" fill="#fff" stroke="#333" stroke-width="1.2"/>
<ellipse cx="637" cy="704" rx="13.5" ry="18" transform="rotate(15 637 704)" fill="none" stroke="#555" stroke-width="1"/>
<ellipse cx="635.5" cy="704.5" rx="12" ry="17" transform="rotate(15 635.5 704.5)" fill="none" stroke="#666" stroke-width="1"/>
<ellipse cx="634" cy="705" rx="11" ry="16" transform="rotate(15 634 705)" fill="none" stroke="#777" stroke-width="0.9"/>
<ellipse cx="642.3" cy="705.2" rx="12.8" ry="16.5" transform="rotate(15 642.3 705.2)" fill="#fff" stroke="#333" stroke-width="1.2"/>
<ellipse cx="651.6" cy="670.25" rx="6" ry="5" fill="#fff" stroke="#333" stroke-width="1.1"/>
<ellipse cx="651.6" cy="669.5" rx="3" ry="2.5" fill="#fff" stroke="#555" stroke-width="0.8"/>
<ellipse cx="611" cy="686.5" rx="5.5" ry="4.5" fill="#fff" stroke="#333" stroke-width="1"/>
<ellipse cx="611" cy="686.5" rx="2.5" ry="2" fill="#fff" stroke="#555" stroke-width="0.8"/>
<ellipse cx="611" cy="725.5" rx="5.5" ry="5" fill="#fff" stroke="#333" stroke-width="1"/>
<ellipse cx="611" cy="725.5" rx="2.5" ry="2.2" fill="#fff" stroke="#555" stroke-width="0.8"/>
<path d="M609,694 L609,718 M613,692 L613,719" fill="none" stroke="#666" stroke-width="0.96"/>
<path d="M627.25,725.5 L638.6,723 L638.6,738.5 L627.25,738.5 Z" fill="#fff" stroke="#333" stroke-width="1.25" />
<path d="M629,730 L636,729 L636,736" fill="none" stroke="#666" stroke-width="0.96"/>
<circle cx="674.5" cy="695" r="3.8" fill="#999" stroke="#444" stroke-width="1.2"/><circle cx="674.5" cy="695" r="1.3" fill="#eee"/>
<path d="M655,707 L670,698" fill="none" stroke="#666" stroke-width="1.20"/>
<path d="M582,749 L597.5,741 L598.5,743.5 L583,751.5 Z" fill="#fff" stroke="#333" stroke-width="1.25" />
<circle cx="578.75" cy="751.25" r="3.8" fill="#ccc" stroke="#333" stroke-width="1.1"/>
<path d="M600,740 L607,736" fill="none" stroke="#666" stroke-width="1.20"/>
<path d="M476.6,680.4 L505.6,679 L512,687.6 L509.25,698.5 L496.6,714.8 L487.5,733 L487.5,749.25 L494.75,760 L509.25,767.4 L522,772 L526,782 L518,790 L509.25,789.1 L502,787.3 L474.8,772.8 L460.3,756.5 L451.25,738.4 L442.2,733 L432,733 L431,722 L438.6,717.5 L446.7,714 L456.7,719.3 L464,713 L469.4,696.7 Z" fill="#fff" stroke="#333" stroke-width="1.25" />
<path d="M447.6,731 L458.5,740.2 L467.6,756.5 L480.25,769.2 L505.6,776.4" fill="none" stroke="#333" stroke-width="1.08"/>
<path d="M496.6,696.7 L483.9,714.8 L480.25,734.75 L482,751 L489.3,762 L508,770" fill="none" stroke="#333" stroke-width="1.08"/>
<path d="M469.4,696.7 L474,700 L482,698" fill="none" stroke="#666" stroke-width="0.96"/>
<path d="M482,687.5 L468.75,721 M500,694 L486,725 L484.5,748 L498,763 L510,768" fill="none" stroke="#555" stroke-width="0.96"/>
<path d="M452,733 L464,753 L480,766 L506,773" fill="none" stroke="#555" stroke-width="0.96"/>
<path d="M470,775 L504,783" fill="none" stroke="#777" stroke-width="0.96"/>
<path d="M504.4,788.8 L508,800" fill="none" stroke="#444" stroke-width="1.20"/>
<path d="M482,694 L491,695 L490.5,698.5 L482,697.5 Z" fill="#fff" stroke="#333" stroke-width="1.25" />
<ellipse cx="493.8" cy="684" rx="11.8" ry="8" fill="#fff" stroke="#222" stroke-width="1.3"/>
<ellipse cx="493.8" cy="682.2" rx="8.5" ry="5.3" fill="#fff" stroke="#222" stroke-width="1.6"/>
<ellipse cx="435.8" cy="727.5" rx="5.8" ry="7.2" fill="#fff" stroke="#111" stroke-width="1.8"/>
<ellipse cx="436.5" cy="727" rx="2.8" ry="4" fill="#888" stroke="#333" stroke-width="0.9"/>
<ellipse cx="517.4" cy="780" rx="9.3" ry="7" fill="#fff" stroke="#222" stroke-width="1.3"/>
<ellipse cx="516.5" cy="776" rx="6" ry="4" fill="#fff" stroke="#222" stroke-width="1.2"/>
<path d="M513.5,763 L519,763 L519,773 L513.5,773 Z" fill="#fff" stroke="#333" stroke-width="1.25" fill="#999"/>
<path d="M268,760 L274,756.5 L301.25,742.5 L308,743 L311.25,746.9 L294,766 L355,791 L355,803 L270,768 Q265,764 268,760 Z" fill="#fff" stroke="#333" stroke-width="1.25" />
<path d="M271,767 L355,800 M294,766 L355,792" fill="none" stroke="#333" stroke-width="1.08"/>
<ellipse cx="280.6" cy="761.9" rx="9" ry="5" fill="#fff" stroke="#333" stroke-width="1"/>
<ellipse cx="280.6" cy="761" rx="4" ry="2.3" fill="#fff" stroke="#555" stroke-width="0.8"/>
<ellipse cx="304.4" cy="745.6" rx="3" ry="2.2" fill="#fff" stroke="#444" stroke-width="0.9"/>
<ellipse cx="291" cy="773.5" rx="2.5" ry="1.6" fill="#fff" stroke="#444" stroke-width="0.9"/>
<ellipse cx="305" cy="781" rx="2.5" ry="1.6" fill="#fff" stroke="#444" stroke-width="0.9"/>
<ellipse cx="319" cy="787" rx="2.5" ry="1.6" fill="#fff" stroke="#444" stroke-width="0.9"/>
<ellipse cx="333" cy="793" rx="2.5" ry="1.6" fill="#fff" stroke="#444" stroke-width="0.9"/>
<path d="M351,708 L355,708 L355,730 L351,730 Z" fill="#fff" stroke="#333" stroke-width="1.25" fill="#ccc"/>
<ellipse cx="353" cy="733" rx="4.5" ry="3" fill="#ccc" stroke="#333" stroke-width="1"/>
<path d="M352,737 L350,752" fill="none" stroke="#444" stroke-width="1.20"/>
<path d="M394,730 L398,730 L398,752 L394,752 Z" fill="#fff" stroke="#333" stroke-width="1.25" fill="#ccc"/>
<ellipse cx="396" cy="754" rx="4.5" ry="3" fill="#ccc" stroke="#333" stroke-width="1"/>
<path d="M287,711 L310,697 L311.5,699.5 L288.5,713.5 Z" fill="#fff" stroke="#333" stroke-width="1.25" fill="#ddd"/>
<ellipse cx="284.5" cy="712.5" rx="4" ry="3.5" fill="#bbb" stroke="#333" stroke-width="1.1"/>
<path d="M128,549.2 L129.3,569.8 Q131,578 139,583.6 L147.2,590 L157,590 L152.7,585 L147.2,579.5 Q141,574 140.3,568.5 L139,545 L136.2,543 L124,542 Z" fill="#fff" stroke="#333" stroke-width="1.25" />
<path d="M131.5,548 L132.5,569 Q135,578 143,584 M135.5,546 L136.5,569 Q138,577 146,583" fill="none" stroke="#555" stroke-width="0.96"/>
<ellipse cx="124" cy="546" rx="8.5" ry="5.5" fill="#fff" stroke="#333" stroke-width="1.1"/>
<ellipse cx="123.8" cy="544" rx="5" ry="4" fill="#555" stroke="#222" stroke-width="1"/>
<path d="M124,532 L124,540" fill="none" stroke="#555" stroke-width="1.92"/>
<ellipse cx="158.2" cy="591.8" rx="4.2" ry="5" fill="#fff" stroke="#333" stroke-width="1"/>
<ellipse cx="151.3" cy="594.6" rx="6.3" ry="7" fill="#fff" stroke="#333" stroke-width="1.2"/>
<ellipse cx="151.3" cy="594.6" rx="3" ry="3.5" fill="#888" stroke="#333" stroke-width="1"/>
<path d="M107,561.6 L110.5,561.6 L110.5,575 L107,575 Z" fill="#fff" stroke="#333" stroke-width="1.25" fill="#bbb"/>
<ellipse cx="108.7" cy="577" rx="4.8" ry="3.8" fill="#ccc" stroke="#333" stroke-width="1.1"/>
<path d="M106,619.5 L127,608 L129,611.5 L108,623 Z" fill="#fff" stroke="#333" stroke-width="1.25" fill="#ddd"/>
<ellipse cx="103.2" cy="622" rx="4.5" ry="4.2" fill="#ccc" stroke="#333" stroke-width="1.1"/>
<line x1="352.7" y1="565" x2="352.7" y2="638" stroke="#555" stroke-width="1.0"/>
<line x1="352.7" y1="676" x2="352.7" y2="708" stroke="#555" stroke-width="1.0" stroke-dasharray="3,1.5"/>
<line x1="395.5" y1="576" x2="395.5" y2="730" stroke="#555" stroke-width="1.0"/>
<line x1="409" y1="593" x2="409" y2="800" stroke="#555" stroke-width="1.1"/>
<line x1="367.7" y1="570" x2="367.7" y2="616.7" stroke="#555" stroke-width="1.1"/>
<circle cx="367.7" cy="616.7" r="1.5" fill="#444"/>
<circle cx="382.4" cy="610" r="1.5" fill="#444"/>
<circle cx="352.7" cy="638" r="1.5" fill="#444"/>
<line x1="382.4" y1="583" x2="382.4" y2="610" stroke="#555" stroke-width="1.0"/>
<path d="M379.6,584 L385.2,584 L382.4,578.5 Z" fill="#222"/>
<line x1="340" y1="574" x2="401" y2="602" stroke="#555" stroke-width="1.0"/>
<circle cx="396" cy="576.3" r="3.8" fill="#999" stroke="#333" stroke-width="1.2"/><circle cx="396" cy="576.3" r="1.3" fill="#fff"/>
<text x="674" y="13" class="t" textLength="39" lengthAdjust="spacing">11 - 14)</text>
<text x="674" y="0.8" class="t" textLength="50" lengthAdjust="spacing">(1.1 - 1.4,</text>
<g transform="translate(371.5,123) scale(0.969,0.969)"><rect width="16" height="16" fill="#0c0c0c"/><path d="M3.6,3.4 L3.6,7.5 Q3.8,12 7.6,12.2 Q11.8,12 12.1,7.5 L12.1,3.4" fill="none" stroke="#fff" stroke-width="2.9"/><rect x="5.1" y="11" width="4.9" height="5" fill="#fff"/><circle cx="7.6" cy="6" r="1.5" fill="#fff"/></g>
<text x="392" y="136" class="t" textLength="138.5" lengthAdjust="spacing">28 - 35 (2.9 - 3.5, 21 - 25)</text>
<g transform="translate(371.5,273.5) scale(0.969,0.969)"><rect width="16" height="16" fill="#0c0c0c"/><path d="M3.6,3.4 L3.6,7.5 Q3.8,12 7.6,12.2 Q11.8,12 12.1,7.5 L12.1,3.4" fill="none" stroke="#fff" stroke-width="2.9"/><rect x="5.1" y="11" width="4.9" height="5" fill="#fff"/><circle cx="7.6" cy="6" r="1.5" fill="#fff"/></g>
<text x="391.5" y="285.5" class="t" textLength="138" lengthAdjust="spacing">38 - 50 (3.9 - 5.0, 28 - 36)</text>
<g transform="translate(150,448.5) scale(1.000,1.000)"><rect width="16" height="16" fill="#0c0c0c"/><path d="M3.6,3.4 L3.6,7.5 Q3.8,12 7.6,12.2 Q11.8,12 12.1,7.5 L12.1,3.4" fill="none" stroke="#fff" stroke-width="2.9"/><rect x="5.1" y="11" width="4.9" height="5" fill="#fff"/><circle cx="7.6" cy="6" r="1.5" fill="#fff"/></g>
<text x="170" y="460" class="t" textLength="138" lengthAdjust="spacing">68 - 83 (7.0 - 8.4, 51 - 61)</text>
<g transform="translate(44.5,489) scale(0.969,0.969)"><rect width="16" height="16" fill="#0c0c0c"/><path d="M3.6,3.4 L3.6,7.5 Q3.8,12 7.6,12.2 Q11.8,12 12.1,7.5 L12.1,3.4" fill="none" stroke="#fff" stroke-width="2.9"/><rect x="5.1" y="11" width="4.9" height="5" fill="#fff"/><circle cx="7.6" cy="6" r="1.5" fill="#fff"/></g>
<text x="64" y="501" class="t" textLength="36" lengthAdjust="spacing">57 - 72</text>
<text x="64" y="515" class="t" textLength="51" lengthAdjust="spacing">(5.3 - 7.3,</text>
<text x="64" y="529" class="t" textLength="40" lengthAdjust="spacing">39 - 53)</text>
<g transform="translate(663.9,435.3) scale(0.969,0.938)"><rect width="16" height="16" fill="#0c0c0c"/><path d="M3.6,3.4 L3.6,7.5 Q3.8,12 7.6,12.2 Q11.8,12 12.1,7.5 L12.1,3.4" fill="none" stroke="#fff" stroke-width="2.9"/><rect x="5.1" y="11" width="4.9" height="5" fill="#fff"/><circle cx="7.6" cy="6" r="1.5" fill="#fff"/></g>
<text x="683.7" y="447" class="t" textLength="36" lengthAdjust="spacing">38 - 50</text>
<text x="683.7" y="461" class="t" textLength="51" lengthAdjust="spacing">(3.9 - 5.0,</text>
<text x="683.7" y="474.7" class="t" textLength="40" lengthAdjust="spacing">28 - 36)</text>
<g transform="translate(423.8,569) scale(0.875,0.969)"><rect width="16" height="16" fill="#0c0c0c"/><path d="M3.6,3.4 L3.6,7.5 Q3.8,12 7.6,12.2 Q11.8,12 12.1,7.5 L12.1,3.4" fill="none" stroke="#fff" stroke-width="2.9"/><rect x="5.1" y="11" width="4.9" height="5" fill="#fff"/><circle cx="7.6" cy="6" r="1.5" fill="#fff"/></g>
<text x="442.5" y="580" class="t" textLength="42" lengthAdjust="spacing">90 - 107</text>
<text x="442.5" y="593.5" class="t" textLength="56" lengthAdjust="spacing">(9.2 - 10.9,</text>
<text x="442.5" y="607" class="t" textLength="40" lengthAdjust="spacing">67 - 78)</text>
<g transform="translate(633,559.3)"><circle r="9" fill="#111"/><path d="M-4,-4 L4,4 M4,-4 L-4,4" stroke="#fff" stroke-width="3.2" stroke-linecap="round"/></g>
<g transform="translate(644.8,550.5) scale(0.969,1.000)"><rect width="16" height="16" fill="#0c0c0c"/><path d="M3.6,3.4 L3.6,7.5 Q3.8,12 7.6,12.2 Q11.8,12 12.1,7.5 L12.1,3.4" fill="none" stroke="#fff" stroke-width="2.9"/><rect x="5.1" y="11" width="4.9" height="5" fill="#fff"/><circle cx="7.6" cy="6" r="1.5" fill="#fff"/></g>
<text x="665" y="563" class="t" textLength="47" lengthAdjust="spacing">100 - 117</text>
<text x="665" y="577" class="t" textLength="42" lengthAdjust="spacing">(11 - 12,</text>
<text x="665" y="590.3" class="t" textLength="40" lengthAdjust="spacing">74 - 86)</text>
<g transform="translate(653.8,746.3)"><circle r="8.8" fill="#111"/><path d="M-4,-4 L4,4 M4,-4 L-4,4" stroke="#fff" stroke-width="3.2" stroke-linecap="round"/></g>
<g transform="translate(667.5,737.5) scale(0.906,0.969)"><rect width="16" height="16" fill="#0c0c0c"/><path d="M3.6,3.4 L3.6,7.5 Q3.8,12 7.6,12.2 Q11.8,12 12.1,7.5 L12.1,3.4" fill="none" stroke="#fff" stroke-width="2.9"/><rect x="5.1" y="11" width="4.9" height="5" fill="#fff"/><circle cx="7.6" cy="6" r="1.5" fill="#fff"/></g>
<text x="686.3" y="749.5" class="t" textLength="36" lengthAdjust="spacing">54 - 66</text>
<text x="686.3" y="763.7" class="t" textLength="49" lengthAdjust="spacing">(5.5 - 6.7</text>
<text x="686.3" y="778" class="t" textLength="40" lengthAdjust="spacing">40 - 48)</text>
<text x="105" y="674" class="t" textLength="27" lengthAdjust="spacing">M/T :</text>
<g transform="translate(136,663.4) scale(0.906,0.906)"><rect width="16" height="16" fill="#0c0c0c"/><path d="M3.6,3.4 L3.6,7.5 Q3.8,12 7.6,12.2 Q11.8,12 12.1,7.5 L12.1,3.4" fill="none" stroke="#fff" stroke-width="2.9"/><rect x="5.1" y="11" width="4.9" height="5" fill="#fff"/><circle cx="7.6" cy="6" r="1.5" fill="#fff"/></g>
<text x="155.4" y="674" class="t" textLength="42" lengthAdjust="spacing">90 - 107</text>
<text x="155.4" y="688" class="t" textLength="102" lengthAdjust="spacing">(9.2 - 10.9, 67 - 78)</text>
<text x="56.3" y="705" class="t" textLength="77" lengthAdjust="spacing">A/T and C+C :</text>
<g transform="translate(136,693.6) scale(0.906,0.906)"><rect width="16" height="16" fill="#0c0c0c"/><path d="M3.6,3.4 L3.6,7.5 Q3.8,12 7.6,12.2 Q11.8,12 12.1,7.5 L12.1,3.4" fill="none" stroke="#fff" stroke-width="2.9"/><rect x="5.1" y="11" width="4.9" height="5" fill="#fff"/><circle cx="7.6" cy="6" r="1.5" fill="#fff"/></g>
<text x="155.4" y="705" class="t" textLength="47" lengthAdjust="spacing">140 - 160</text>
<text x="155.4" y="718.5" class="t" textLength="97" lengthAdjust="spacing">(15 - 16, 104 - 118)</text>
<text x="79" y="788" class="t" textLength="70" lengthAdjust="spacing">Except C+C :</text>
<g transform="translate(153.8,776.5) scale(0.906,0.906)"><rect width="16" height="16" fill="#0c0c0c"/><path d="M3.6,3.4 L3.6,7.5 Q3.8,12 7.6,12.2 Q11.8,12 12.1,7.5 L12.1,3.4" fill="none" stroke="#fff" stroke-width="2.9"/><rect x="5.1" y="11" width="4.9" height="5" fill="#fff"/><circle cx="7.6" cy="6" r="1.5" fill="#fff"/></g>
<text x="173.2" y="788" class="t" textLength="42" lengthAdjust="spacing">90 - 107</text>
<text x="173.2" y="802" class="t" textLength="102" lengthAdjust="spacing">(9.2 - 10.9, 67 - 78)</text>
<g transform="translate(324,753) scale(1.000,0.938)"><rect width="16" height="16" fill="#0c0c0c"/><path d="M3.6,3.4 L3.6,7.5 Q3.8,12 7.6,12.2 Q11.8,12 12.1,7.5 L12.1,3.4" fill="none" stroke="#fff" stroke-width="2.9"/><rect x="5.1" y="11" width="4.9" height="5" fill="#fff"/><circle cx="7.6" cy="6" r="1.5" fill="#fff"/></g>
<text x="344" y="765" class="t" textLength="37" lengthAdjust="spacing">68 - 83</text>
<text x="344" y="779" class="t" textLength="51" lengthAdjust="spacing">(7.0 - 8.4,</text>
<text x="344" y="792.5" class="t" textLength="40" lengthAdjust="spacing">51 - 61)</text>
<circle cx="657.3" cy="39.5" r="6.8" fill="#fff" stroke="#222" stroke-width="1.35"/><text transform="translate(657.3,43.46) scale(0.92,1)" x="0" y="0" class="co" font-size="11" text-anchor="middle">1</text>
<circle cx="657.5" cy="89.5" r="6.8" fill="#fff" stroke="#222" stroke-width="1.35"/><text transform="translate(657.5,93.46) scale(0.92,1)" x="0" y="0" class="co" font-size="11" text-anchor="middle">2</text>
<circle cx="662.4" cy="173.6" r="6.8" fill="#fff" stroke="#222" stroke-width="1.35"/><text transform="translate(662.4,177.56) scale(0.92,1)" x="0" y="0" class="co" font-size="11" text-anchor="middle">3</text>
<circle cx="636" cy="293.5" r="6.8" fill="#fff" stroke="#222" stroke-width="1.35"/><text transform="translate(636,297.46) scale(0.92,1)" x="0" y="0" class="co" font-size="11" text-anchor="middle">4</text>
<circle cx="651" cy="406.5" r="6.8" fill="#fff" stroke="#222" stroke-width="1.35"/><text transform="translate(651,410.46) scale(0.92,1)" x="0" y="0" class="co" font-size="11" text-anchor="middle">5</text>
<circle cx="661.3" cy="633.8" r="6.8" fill="#fff" stroke="#222" stroke-width="1.35"/><text transform="translate(661.3,637.76) scale(0.92,1)" x="0" y="0" class="co" font-size="11" text-anchor="middle">6</text>
<circle cx="404" cy="183" r="6.8" fill="#fff" stroke="#222" stroke-width="1.35"/><text transform="translate(404,186.96) scale(0.92,1)" x="0" y="0" class="co" font-size="11" text-anchor="middle">7</text>
<circle cx="404" cy="234.6" r="6.8" fill="#fff" stroke="#222" stroke-width="1.35"/><text transform="translate(404,238.56) scale(0.92,1)" x="0" y="0" class="co" font-size="11" text-anchor="middle">8</text>
<circle cx="483.2" cy="358.1" r="6.8" fill="#fff" stroke="#222" stroke-width="1.35"/><text transform="translate(483.2,362.06) scale(0.92,1)" x="0" y="0" class="co" font-size="11" text-anchor="middle">9</text>
<circle cx="249" cy="180" r="6.8" fill="#fff" stroke="#222" stroke-width="1.35"/><text transform="translate(249,184.50) scale(0.58,1)" x="0" y="0" class="co" font-size="12.5" text-anchor="middle">11</text>
<circle cx="332.5" cy="503.8" r="6.8" fill="#fff" stroke="#222" stroke-width="1.35"/><text transform="translate(332.5,508.30) scale(0.58,1)" x="0" y="0" class="co" font-size="12.5" text-anchor="middle">12</text>
<circle cx="169.4" cy="514" r="6.8" fill="#fff" stroke="#222" stroke-width="1.35"/><text transform="translate(169.4,518.50) scale(0.58,1)" x="0" y="0" class="co" font-size="12.5" text-anchor="middle">13</text>
<circle cx="253.5" cy="643.9" r="6.8" fill="#fff" stroke="#222" stroke-width="1.35"/><text transform="translate(253.5,648.40) scale(0.58,1)" x="0" y="0" class="co" font-size="12.5" text-anchor="middle">14</text>
<circle cx="357.7" cy="209.2" r="6.8" fill="#fff" stroke="#111" stroke-width="1.5"/><text transform="translate(357.7,213.9) scale(0.88,1)" class="co" font-size="12.5" text-anchor="middle">A</text>
<circle cx="381.8" cy="573.9" r="6.8" fill="#fff" stroke="#111" stroke-width="1.5"/><text transform="translate(381.8,578.6) scale(0.88,1)" class="co" font-size="12.5" text-anchor="middle">A</text>
</svg></body></html>
